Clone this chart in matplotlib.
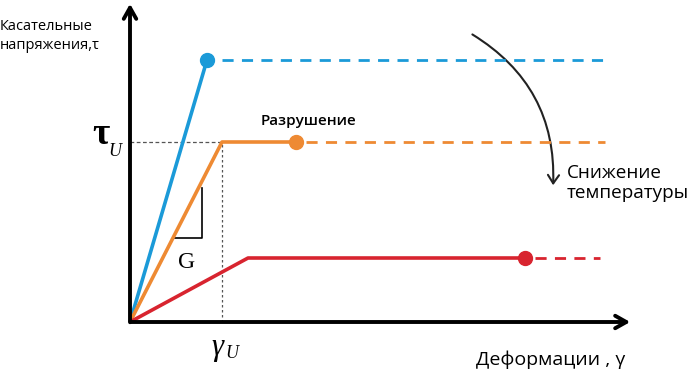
import matplotlib
matplotlib.use("Agg")
import matplotlib.pyplot as plt
from matplotlib.patches import FancyArrowPatch

# Data (strain, stress) in arbitrary units, origin at (0, 0)
series_names = ["blue", "orange", "red"]
series_colors = ["#1b9ad8", "#ee8a33", "#d8242f"]
yield_strain = [77, 92, 118]      # end of linear part
yield_stress = [262, 180, 64]     # plateau stress
fail_strain = [77, 166, 395]      # failure marker
dash_end = [475, 475, 470]        # end of dashed continuation
dash_start = [92, 176, 405]

tau_u = 180
gamma_u = 92

fig = plt.figure(figsize=(6.9, 3.76), dpi=100)
ax = fig.add_axes([0, 0, 1, 1])
ax.set_xlim(-130, 560)
ax.set_ylim(-54, 322)
ax.axis("off")

# reference guides
ax.plot([0, gamma_u], [tau_u, tau_u], color="#555555", lw=0.9, ls=(0, (3, 2)), zorder=1)
ax.plot([gamma_u, gamma_u], [0, tau_u], color="#555555", lw=0.9, ls=(0, (2, 2)), zorder=1)

for c, ys, ysig, fs, ds, de in zip(series_colors, yield_strain, yield_stress, fail_strain, dash_start, dash_end):
    ax.plot([0, ys, fs], [0, ysig, ysig], color=c, lw=2.6, solid_capstyle="butt", zorder=3)
    ax.plot([fs], [ysig], "o", color=c, ms=10, zorder=4)
    ax.plot([ds, de], [ysig, ysig], color=c, lw=2.0, ls=(0, (4, 3)), zorder=2)

# slope triangle G
ax.plot([44, 72, 72], [84, 84, 134], color="black", lw=1.2, zorder=2)
ax.text(57, 59, "G", fontsize=17, family="Liberation Serif", ha="center", va="center")

# axes arrows
ax.annotate("", xy=(0, 321), xytext=(0, -3),
            arrowprops=dict(arrowstyle="->,head_length=0.8,head_width=0.45", lw=2.8, color="black"))
ax.annotate("", xy=(503, 0), xytext=(-2, 0),
            arrowprops=dict(arrowstyle="->,head_length=0.8,head_width=0.45", lw=2.8, color="black"))

# labels
ax.text(-29, 178, "τ", fontsize=27, family="Liberation Serif", weight="bold",
        ha="center", va="baseline")
ax.text(-15, 166, "U", fontsize=13, family="Liberation Serif", style="italic",
        ha="center", va="baseline")
ax.text(87, -25, "γ", fontsize=22, family="Liberation Serif", style="italic", ha="center", va="center")
ax.text(102, -32, "U", fontsize=13, family="Liberation Serif", style="italic", ha="center", va="center")

ax.text(-130, 303, "Касательные\nнапряжения,τ", fontsize=10.5, family="Open Sans",
        ha="left", va="top", linespacing=1.35)
ax.text(131, 201, "Разрушение", fontsize=11, family="Open Sans", weight="semibold",
        ha="left", va="center")
ax.text(437, 139, "Снижение\nтемпературы", fontsize=13.6, family="Open Sans",
        ha="left", va="center", linespacing=1.15)
ax.text(346, -38, "Деформации , γ", fontsize=14, family="Open Sans", ha="left", va="center")

arr = FancyArrowPatch((340, 289), (423, 134), connectionstyle="arc3,rad=-0.3",
                      arrowstyle="->,head_length=6,head_width=4", lw=1.5, color="#222222")
ax.add_patch(arr)

fig.savefig("out.png", dpi=100)
